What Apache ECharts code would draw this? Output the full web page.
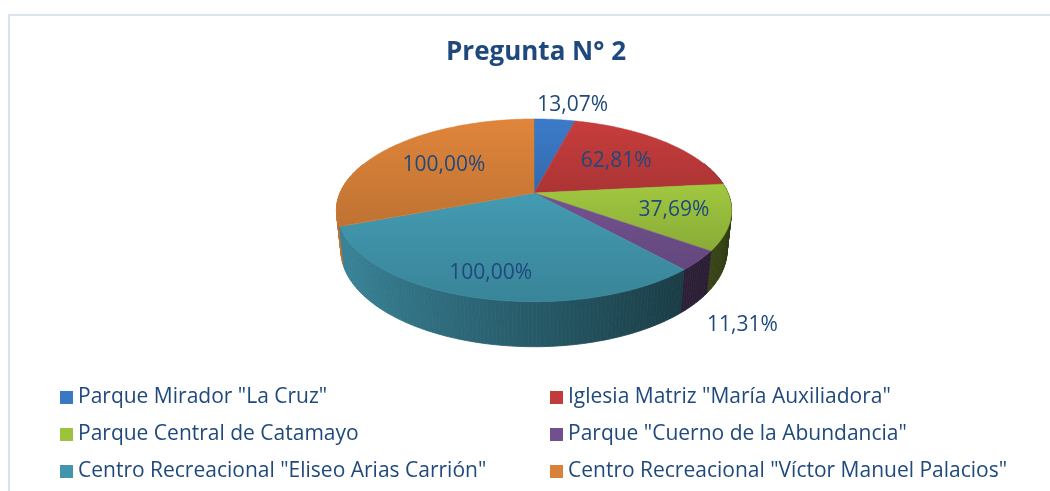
<!DOCTYPE html>
<html>
<head>
<meta charset="utf-8">
<title>Pregunta N° 2</title>
<script src="https://cdn.jsdelivr.net/npm/echarts@6/dist/echarts.min.js"></script>
<style>
    html, body { margin: 0; padding: 0; background: #fff; }
    #pie_3d { width: 1050px; height: 491px; }
</style>
</head>
<body>
<div id="pie_3d"></div>
<script>

// Chart data
// ------------------------------

var categories = [
    'Parque Mirador "La Cruz"',
    'Iglesia Matriz "María Auxiliadora"',
    'Parque Central de Catamayo',
    'Parque "Cuerno de la Abundancia"',
    'Centro Recreacional "Eliseo Arias Carrión"',
    'Centro Recreacional "Víctor Manuel Palacios"'
];
var values = [13.07, 62.81, 37.69, 11.31, 100.00, 100.00];
var colors = ['#3a77c4', '#c23b3b', '#9cc23e', '#71518d', '#4196ad', '#d98139'];


// Setup module
// ------------------------------

var EchartsPie3d = function() {

    // Perspective of the tilted pie
    var view = { cx: 534, cy: 193, scale: 194, tilt: 27 * Math.PI / 180, dist: 4.7, depth: 0.231 };

    // Per slice label radius (inside labels), 0 = outside
    var labelRadius = [0, 0.6, 0.72, 0, 0.8, 0.6];

    var project = function(x, y, z) {
        var sa = Math.sin(view.tilt), ca = Math.cos(view.tilt);
        var yv = y * ca - z * sa;
        var zv = y * sa + z * ca;
        var k = view.dist / (view.dist - zv);
        return [view.cx + view.scale * x * k, view.cy - view.scale * yv * k];
    };

    var shade = function(hex, f) {
        var c = parseInt(hex.slice(1), 16);
        var r = Math.min(255, Math.round(((c >> 16) & 255) * f));
        var g = Math.min(255, Math.round(((c >> 8) & 255) * f));
        var b = Math.min(255, Math.round((c & 255) * f));
        return 'rgb(' + r + ',' + g + ',' + b + ')';
    };

    var _pie3dExample = function() {
        if (typeof echarts == 'undefined') {
            console.warn('Warning - echarts.min.js is not loaded.');
            return;
        }

        // Define element
        var pie_3d_element = document.getElementById('pie_3d');
        if (!pie_3d_element) return;

        // Slice angles (clockwise from 12 o'clock)
        var total = values.reduce(function(a, b) { return a + b; }, 0);
        var starts = [], acc = 0;
        values.forEach(function(v) {
            starts.push(acc / total * Math.PI * 2);
            acc += v;
        });

        var renderSlice = function(params, api) {
            var i = params.dataIndex;
            var a0 = starts[i];
            var a1 = a0 + api.value(0) / total * Math.PI * 2;
            var h = view.depth;
            var base = colors[i];
            var children = [];

            // Outer wall, split in thin segments so it can be shaded
            var steps = Math.max(2, Math.ceil((a1 - a0) / (Math.PI / 180)));
            for (var s = 0; s < steps; s++) {
                var t0 = a0 + (a1 - a0) * s / steps;
                var t1 = a0 + (a1 - a0) * (s + 1) / steps;
                var tm = (t0 + t1) / 2;
                var zm = -Math.cos(tm);
                if (zm < -0.35) continue;
                var fill = shade(base, 0.6 - 0.3 * Math.sin(tm));
                children.push({
                    type: 'polygon',
                    z2: 10 + zm * 10,
                    shape: {
                        points: [
                            project(Math.sin(t0), 0, -Math.cos(t0)),
                            project(Math.sin(t1), 0, -Math.cos(t1)),
                            project(Math.sin(t1), -h, -Math.cos(t1)),
                            project(Math.sin(t0), -h, -Math.cos(t0))
                        ]
                    },
                    style: { fill: fill, stroke: fill, lineWidth: 0.8 }
                });
            }

            // Top face
            var pts = [project(0, 0, 0)];
            var n = Math.max(2, Math.ceil((a1 - a0) / (Math.PI / 360)));
            for (var j = 0; j <= n; j++) {
                var t = a0 + (a1 - a0) * j / n;
                pts.push(project(Math.sin(t), 0, -Math.cos(t)));
            }
            children.push({
                type: 'polygon',
                z2: 100,
                shape: { points: pts },
                style: {
                    fill: new echarts.graphic.LinearGradient(0, 0, 0, 1, [
                        { offset: 0, color: shade(base, 1.03) },
                        { offset: 1, color: shade(base, 0.88) }
                    ]),
                    stroke: shade(base, 0.97),
                    lineWidth: 0.5
                }
            });

            // Data label
            var am = (a0 + a1) / 2;
            var r = labelRadius[i];
            var pos;
            if (r > 0) {
                pos = project(r * Math.sin(am), 0, -r * Math.cos(am));
            }
            else {
                var zo = -Math.cos(am);
                pos = project(1.25 * Math.sin(am), zo > 0 ? -h : 0, 1.25 * zo);
                pos[0] += zo < 0 ? 14 : 0;
            }
            children.push({
                type: 'text',
                z2: 200,
                x: pos[0],
                y: pos[1],
                style: {
                    text: api.value(0).toFixed(2).replace('.', ',') + '%',
                    fill: '#1f497d',
                    font: '21px "Open Sans", sans-serif',
                    align: 'center',
                    verticalAlign: 'middle'
                }
            });

            return { type: 'group', children: children };
        };

        // Initialize chart
        var pie_3d = echarts.init(pie_3d_element, null, { renderer: 'canvas' });

        var legendStyle = {
            orient: 'vertical',
            top: 382,
            itemWidth: 13,
            itemHeight: 13,
            itemGap: 16,
            icon: 'rect',
            selectedMode: false,
            textStyle: {
                fontFamily: '"Open Sans", sans-serif',
                fontSize: 21,
                color: '#1f497d'
            }
        };

        // Options
        pie_3d.setOption({
            animation: false,
            backgroundColor: '#fff',

            // Add title
            title: {
                text: 'Pregunta N° 2',
                left: 531,
                top: 35,
                textAlign: 'center',
                textStyle: {
                    fontFamily: '"Open Sans", sans-serif',
                    fontSize: 26,
                    fontWeight: 'bold',
                    color: '#1f497d'
                }
            },

            // Chart border
            graphic: [{
                type: 'rect',
                silent: true,
                shape: { x: 9, y: 15, width: 1100, height: 500 },
                style: { fill: 'none', stroke: '#d9e4f1', lineWidth: 2 }
            }],

            // Add legends (two columns)
            legend: [
                Object.assign({ left: 55, data: [categories[0], categories[2], categories[4]] }, legendStyle),
                Object.assign({ left: 545, data: [categories[1], categories[3], categories[5]] }, legendStyle)
            ],

            // Add series
            series: [
                {
                    // 3D slices
                    type: 'custom',
                    coordinateSystem: 'none',
                    silent: true,
                    renderItem: renderSlice,
                    data: values.map(function(v, i) { return { name: categories[i], value: [v] }; })
                },
                {
                    // Carries the legend entries
                    type: 'pie',
                    silent: true,
                    radius: [0, 0],
                    label: { show: false },
                    labelLine: { show: false },
                    data: values.map(function(v, i) {
                        return { name: categories[i], value: v, itemStyle: { color: colors[i] } };
                    })
                }
            ]
        });

        // Resize
        window.addEventListener('resize', function() {
            pie_3d.resize();
        });
    };

    return {
        init: function() {
            _pie3dExample();
        }
    };
}();


// Initialize module
// ------------------------------

document.addEventListener('DOMContentLoaded', function() {
    EchartsPie3d.init();
});
</script>
</body>
</html>
